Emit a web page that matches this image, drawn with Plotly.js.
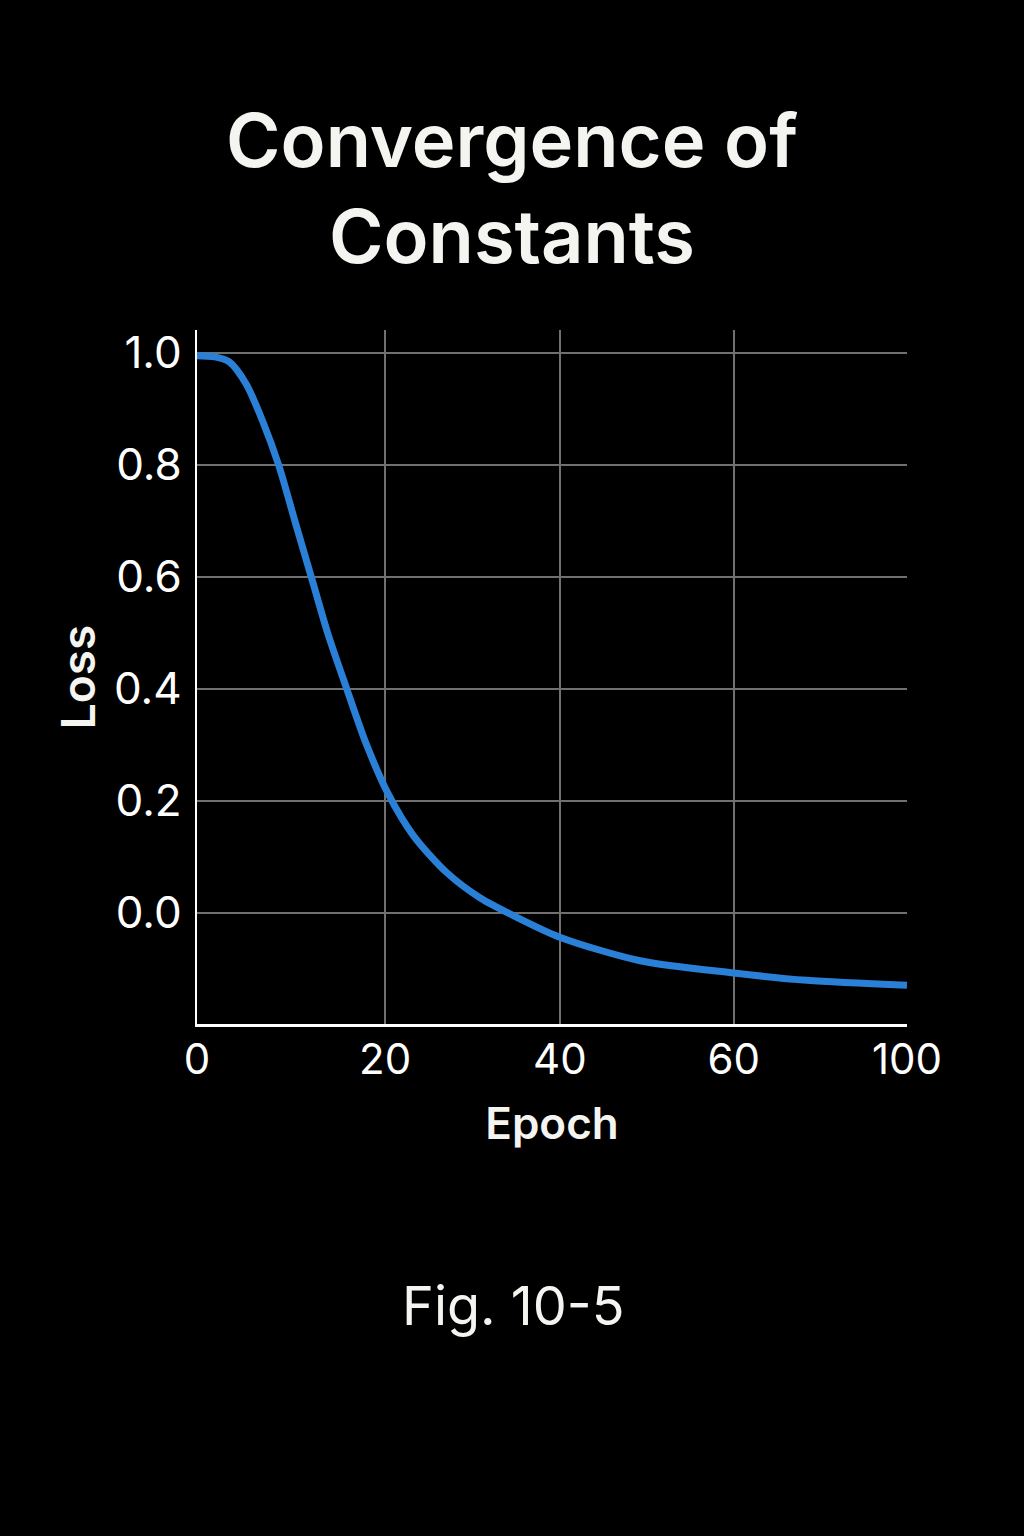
<!DOCTYPE html>
<html>
<head>
<meta charset="utf-8">
<script src="https://cdn.plot.ly/plotly-3.0.1.min.js"></script>
<style>
  html, body { margin: 0; padding: 0; background: #000; }
  #chart { width: 1024px; height: 1536px; }
</style>
</head>
<body>
<div id="chart"></div>
<script>
// Epoch positions along the axis (axis runs 0..100) and loss values
const epochs = [0, 2.5, 4.55, 6.9, 9.25, 11.5, 13.9, 16.1, 18.4, 21.1, 23.9, 26.8, 30.5, 35.2, 39.9, 44.5, 51.1, 62.4, 75.6, 85.9, 100];
const loss   = [0.995, 0.993, 0.984, 0.945, 0.878, 0.80, 0.695, 0.60, 0.50, 0.40, 0.30, 0.216, 0.138, 0.072, 0.027, -0.004, -0.043, -0.085, -0.107, -0.12, -0.129];

// Tick positions and labels as printed on the axes
const xTickVals = [0, 26.5, 51.1, 75.6, 100];
const xTickText = ['0', '20', '40', '60', '100'];
const yTickVals = [0.0, 0.2, 0.4, 0.6, 0.8, 1.0];
const yTickText = ['0.0', '0.2', '0.4', '0.6', '0.8', '1.0'];

const titleText = 'Convergence of<br>Constants';
const xTitle = 'Epoch';
const yTitle = 'Loss';
const caption = 'Fig. 10-5';

const FONT = 'Inter, "Noto Sans", "Liberation Sans", sans-serif';

const trace = {
  x: epochs,
  y: loss,
  type: 'scatter',
  mode: 'lines',
  line: { color: '#2a80d6', width: 7, shape: 'spline', smoothing: 0.8 },
  hoverinfo: 'skip',
  showlegend: false
};

const layout = {
  width: 1024,
  height: 1536,
  paper_bgcolor: '#000000',
  plot_bgcolor: '#000000',
  margin: { l: 197, r: 117, t: 330, b: 512 },
  font: { family: FONT, color: '#ffffff' },
  title: {
    text: titleText,
    font: { family: FONT, size: 74, color: '#f4f4f0', weight: 600 },
    x: 0.5, xanchor: 'center',
    y: 1 - 167 / 1536, yanchor: 'top', yref: 'container'
  },
  xaxis: {
    range: [0, 100],
    tickvals: xTickVals,
    ticktext: xTickText,
    tickfont: { family: FONT, size: 42, color: '#ffffff' },
    showgrid: true,
    gridcolor: '#707070',
    gridwidth: 1.5,
    zeroline: false,
    showline: true,
    linecolor: '#ffffff',
    linewidth: 2.5,
    ticks: '',
    ticklabelstandoff: -3,
    title: { text: xTitle, font: { family: FONT, size: 44, color: '#f4f4f0', weight: 600 }, standoff: 26 }
  },
  yaxis: {
    range: [-0.198, 1.041],
    tickvals: yTickVals,
    ticktext: yTickText,
    tickfont: { family: FONT, size: 44, color: '#ffffff' },
    showgrid: true,
    gridcolor: '#707070',
    gridwidth: 1.5,
    zeroline: false,
    showline: true,
    linecolor: '#ffffff',
    linewidth: 2.5,
    ticks: '',
    ticklabelstandoff: 4,
    title: { text: yTitle, font: { family: FONT, size: 46, color: '#f4f4f0', weight: 600 }, standoff: 4 }
  },
  annotations: [{
    text: caption,
    xref: 'paper', yref: 'paper',
    x: (513 - 197) / 710, xanchor: 'center',
    y: -(1305 - 1024) / 694, yanchor: 'middle',
    showarrow: false,
    font: { family: FONT, size: 54, color: '#f4f4f0' }
  }]
};

Plotly.newPlot('chart', [trace], layout, { displayModeBar: false, staticPlot: true });
</script>
</body>
</html>
